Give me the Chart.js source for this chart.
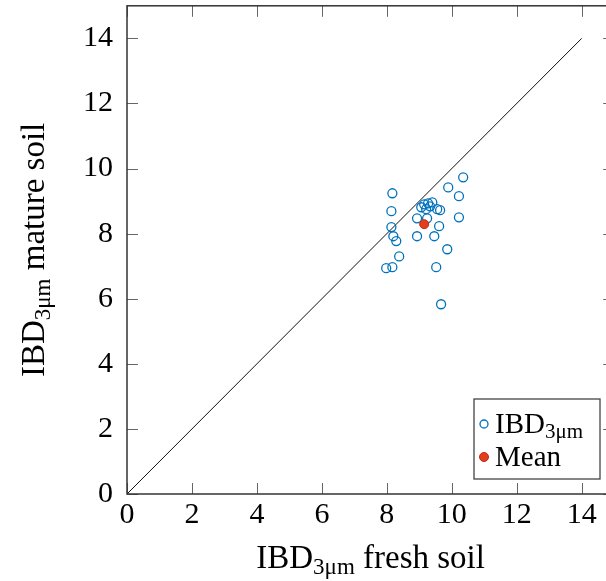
<!DOCTYPE html>
<html><head><meta charset="utf-8">
<script src="https://cdn.jsdelivr.net/npm/chart.js@4/dist/chart.umd.min.js"></script>
<style>
html,body{margin:0;padding:0;overflow:hidden;background:#fff;width:606px;height:581px}
#wrap{width:620px;height:581px}
</style></head>
<body><div id="wrap"><canvas id="c" width="620" height="581"></canvas></div>
<script>
// Data
const freshSoil  = [8.17, 8.14, 8.14, 8.20, 8.29, 8.38, 7.98, 8.17, 10.35, 9.89, 10.22, 10.22, 8.93, 9.24, 8.93, 9.46, 9.61, 9.86, 9.52, 9.67, 9.06, 9.15, 9.27, 9.40, 9.21, 9.55, 9.64, 9.33];
const matureSoil = [9.24, 8.69, 8.20, 7.92, 7.77, 7.30, 6.94, 6.97, 9.73, 9.42, 9.15, 8.50, 8.47, 8.47, 7.92, 7.92, 8.23, 7.52, 6.97, 5.83, 8.81, 8.90, 8.93, 8.96, 8.75, 8.75, 8.72, 8.84];
const meanFresh  = [9.15];
const meanMature = [8.29];
const diagX = [0, 14];
const diagY = [0, 14];
const xTicks = [0, 2, 4, 6, 8, 10, 12, 14];
const yTicks = [0, 2, 4, 6, 8, 10, 12, 14];
const seriesName = ['IBD', '3\u03bcm'];
const meanName = 'Mean';
const xTitle = ['IBD', '3\u03bcm', ' fresh soil'];
const yTitle = ['IBD', '3\u03bcm', ' mature soil'];

const BLUE = '#0072BD';
const RED = '#E2401C';
const FONT = '"Liberation Serif", "DejaVu Serif", serif';

function drawSub(ctx, parts, x, y, size, subSize, subDrop, align) {
  ctx.font = size + 'px ' + FONT;
  const w0 = ctx.measureText(parts[0]).width;
  const w2 = ctx.measureText(parts[2] || '').width;
  ctx.font = subSize + 'px ' + FONT;
  const w1 = ctx.measureText(parts[1]).width;
  const total = w0 + w1 + w2;
  let sx = align === 'center' ? x - total / 2 : x;
  ctx.textAlign = 'left';
  ctx.textBaseline = 'alphabetic';
  ctx.fillStyle = '#000';
  ctx.font = size + 'px ' + FONT;
  ctx.fillText(parts[0], sx, y);
  ctx.font = subSize + 'px ' + FONT;
  ctx.fillText(parts[1], sx + w0, y + subDrop);
  if (parts[2]) {
    ctx.font = size + 'px ' + FONT;
    ctx.fillText(parts[2], sx + w0 + w1, y);
  }
}

const decor = {
  id: 'decor',
  afterDatasetsDraw(chart) {
    const ctx = chart.ctx;
    const {left, right, top, bottom} = chart.chartArea;
    const xs = chart.scales.x, ys = chart.scales.y;
    ctx.save();
    // inward ticks on all four sides
    ctx.strokeStyle = '#666';
    ctx.lineWidth = 1;
    const tl = 11;
    ctx.beginPath();
    xTicks.forEach(v => {
      const p = Math.round(xs.getPixelForValue(v)) + 0.5;
      ctx.moveTo(p, bottom); ctx.lineTo(p, bottom - tl);
      ctx.moveTo(p, top); ctx.lineTo(p, top + tl);
    });
    yTicks.forEach(v => {
      const p = Math.round(ys.getPixelForValue(v)) + 0.5;
      ctx.moveTo(left, p); ctx.lineTo(left + tl, p);
      ctx.moveTo(right, p); ctx.lineTo(right - tl, p);
    });
    ctx.stroke();
    // frame
    ctx.strokeStyle = '#333';
    ctx.lineWidth = 1.5;
    ctx.strokeRect(left, top, right - left, bottom - top);

    // legend
    const lx = 474, ly = 399, lw = 126, lh = 80;
    ctx.fillStyle = '#fff';
    ctx.fillRect(lx, ly, lw, lh);
    ctx.strokeStyle = '#444';
    ctx.lineWidth = 1.3;
    ctx.strokeRect(lx, ly, lw, lh);
    ctx.beginPath();
    ctx.arc(484, 424, 4, 0, Math.PI * 2);
    ctx.strokeStyle = BLUE; ctx.lineWidth = 1.3; ctx.stroke();
    ctx.beginPath();
    ctx.arc(484, 457, 4.5, 0, Math.PI * 2);
    ctx.fillStyle = RED; ctx.fill();
    ctx.strokeStyle = '#c02a10'; ctx.lineWidth = 1; ctx.stroke();
    drawSub(ctx, [seriesName[0], seriesName[1]], 495, 433, 29, 21, 5, 'left');
    ctx.font = '29px ' + FONT;
    ctx.fillStyle = '#000';
    ctx.fillText(meanName, 495, 466);

    // axis titles
    const cx = (left + right) / 2;
    drawSub(ctx, xTitle, cx, 568, 33, 23, 6, 'center');
    ctx.translate(44, (top + bottom) / 2);
    ctx.rotate(-Math.PI / 2);
    drawSub(ctx, yTitle, 0, 0, 33, 23, 6, 'center');
    ctx.restore();
  }
};

const tickFont = {family: FONT, size: 30};

new Chart(document.getElementById('c'), {
  type: 'scatter',
  data: {
    datasets: [
      {
        label: 'diag',
        type: 'line',
        data: diagX.map((v, i) => ({x: v, y: diagY[i]})),
        borderColor: '#111',
        borderWidth: 1,
        pointRadius: 0,
        fill: false,
        order: 3
      },
      {
        label: 'IBD3μm',
        data: freshSoil.map((v, i) => ({x: v, y: matureSoil[i]})),
        pointStyle: 'circle',
        pointRadius: 4.5,
        borderColor: BLUE,
        borderWidth: 1.3,
        backgroundColor: 'rgba(0,0,0,0)',
        order: 2
      },
      {
        label: meanName,
        data: meanFresh.map((v, i) => ({x: v, y: meanMature[i]})),
        pointRadius: 4.5,
        backgroundColor: RED,
        borderColor: '#c02a10',
        borderWidth: 1,
        order: 1
      }
    ]
  },
  options: {
    responsive: false,
    animation: false,
    devicePixelRatio: 1,
    layout: {padding: {top: 5, right: 4, left: 0, bottom: 0}},
    plugins: {legend: {display: false}, tooltip: {enabled: false}},
    scales: {
      x: {
        type: 'linear', position: 'bottom', min: 0, max: 15,
        grid: {display: false, drawTicks: false},
        border: {display: false},
        afterBuildTicks: s => { s.ticks = xTicks.map(v => ({value: v})); },
        afterFit: s => { s.height = 87; s.paddingLeft = 0; s.paddingRight = 0; },
        ticks: {font: tickFont, color: '#000', padding: 3, maxRotation: 0, autoSkip: false}
      },
      y: {
        type: 'linear', position: 'left', min: 0, max: 15,
        grid: {display: false, drawTicks: false},
        border: {display: false},
        afterBuildTicks: s => { s.ticks = yTicks.map(v => ({value: v})); },
        afterFit: s => { s.width = 127; s.paddingTop = 0; s.paddingBottom = 0; },
        ticks: {font: tickFont, color: '#000', padding: 14, autoSkip: false}
      }
    }
  },
  plugins: [decor]
});
</script>
</body></html>
